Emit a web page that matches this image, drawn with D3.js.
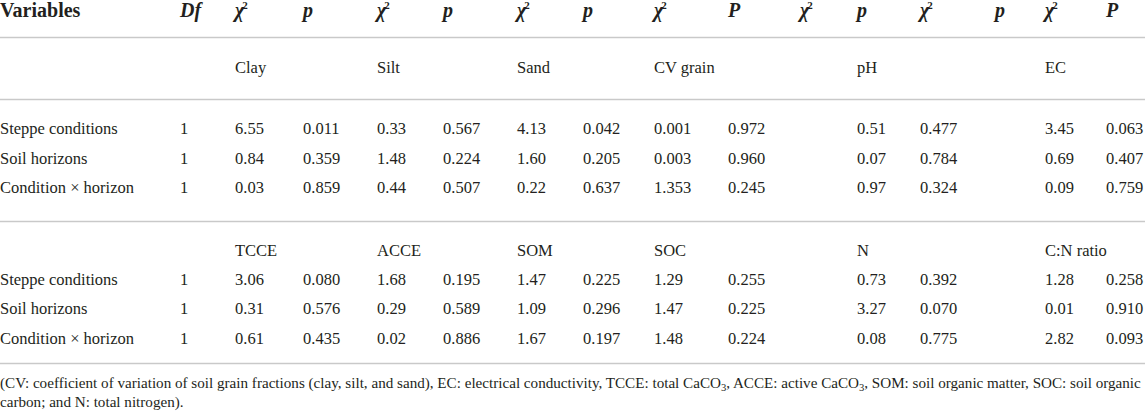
<!DOCTYPE html>
<html>
<head>
<meta charset="utf-8">
<script src="https://cdn.jsdelivr.net/npm/d3@7"></script>
<style>
  body { margin: 0; background: #fff; }
  text { font-family: "Liberation Serif", "DejaVu Serif", serif; fill: #231f20; }
</style>
</head>
<body>
<div id="table"></div>
<script>
// header row of the table (note: it has two extra columns compared to the data)
const headerLabels = ["Variables", "Df", "χ2", "p", "χ2", "p", "χ2", "p", "χ2", "P", "χ2", "p", "χ2", "p", "χ2", "P"];

const rowLabels = ["Steppe conditions", "Soil horizons", "Condition × horizon"];
const dfValues = ["1", "1", "1"];

// first block
const groups1 = ["Clay", "Silt", "Sand", "CV grain", "pH", "EC"];
const chi1 = [
  ["6.55", "0.84", "0.03"],
  ["0.33", "1.48", "0.44"],
  ["4.13", "1.60", "0.22"],
  ["0.001", "0.003", "1.353"],
  ["0.51", "0.07", "0.97"],
  ["3.45", "0.69", "0.09"]
];
const p1 = [
  ["0.011", "0.359", "0.859"],
  ["0.567", "0.224", "0.507"],
  ["0.042", "0.205", "0.637"],
  ["0.972", "0.960", "0.245"],
  ["0.477", "0.784", "0.324"],
  ["0.063", "0.407", "0.759"]
];

// second block
const groups2 = ["TCCE", "ACCE", "SOM", "SOC", "N", "C:N ratio"];
const chi2 = [
  ["3.06", "0.31", "0.61"],
  ["1.68", "0.29", "0.02"],
  ["1.47", "1.09", "1.67"],
  ["1.29", "1.47", "1.48"],
  ["0.73", "3.27", "0.08"],
  ["1.28", "0.01", "2.82"]
];
const p2 = [
  ["0.080", "0.576", "0.435"],
  ["0.195", "0.589", "0.886"],
  ["0.225", "0.296", "0.197"],
  ["0.255", "0.225", "0.224"],
  ["0.392", "0.070", "0.775"],
  ["0.258", "0.910", "0.093"]
];

// footnote pieces, "sub" marks a subscript
const footnote = [
  [["(CV: coefficient of variation of soil grain fractions (clay, silt, and sand), EC: electrical conductivity, TCCE: total CaCO"], ["3", "sub"], [", ACCE: active CaCO"], ["3", "sub"], [", SOM: soil organic matter, SOC: soil organic"]],
  [["carbon; and N: total nitrogen)."]]
];

const width = 1145, height = 411;

const svg = d3.select("#table").append("svg")
  .attr("width", width)
  .attr("height", height);

// column positions (layout only)
const xHeader = d3.scaleOrdinal()
  .domain(d3.range(headerLabels.length))
  .range([0, 180, 235, 303, 377, 443, 517, 583, 654, 728, 800, 857, 920, 995, 1045, 1106]);

// data columns: label, df, then chi/p pairs for each group
const xData = d3.scaleOrdinal()
  .domain(d3.range(14))
  .range([0, 180, 235, 303, 377, 443, 517, 583, 654, 728, 857, 920, 1045, 1106]);

// row positions (centres)
const yRow = d3.scaleOrdinal()
  .domain(["head", "g1", "a0", "a1", "a2", "g2", "b0", "b1", "b2"])
  .range([10, 67, 128, 158, 187, 250, 279, 308, 338]);

const rules = [37.5, 99.5, 221.5, 363.5];

svg.append("g")
  .selectAll("line")
  .data(rules)
  .join("line")
  .attr("x1", 0)
  .attr("x2", width)
  .attr("y1", d => d)
  .attr("y2", d => d)
  .attr("stroke", "#c9c9c9")
  .attr("stroke-width", 1.5);

// header
const head = svg.append("g")
  .selectAll("text")
  .data(headerLabels)
  .join("text")
  .attr("x", (d, i) => xHeader(i))
  .attr("y", yRow("head"))
  .attr("dy", "0.35em")
  .style("font-weight", "bold")
  .style("font-size", "20px")
  .style("font-style", (d, i) => (i === 0 ? "normal" : "italic"));

head.each(function (d) {
  const t = d3.select(this);
  if (d === "χ2") {
    t.append("tspan").text("χ");
    t.append("tspan").text("2")
      .style("font-size", "11px")
      .style("font-style", "normal")
      .attr("dx", -2)
      .attr("dy", "-0.75em");
  } else {
    t.text(d);
  }
});

function drawBlock(groups, chi, p, gKey, rowKeys) {
  const g = svg.append("g").style("font-size", "16.5px");

  g.selectAll("text.group")
    .data(groups)
    .join("text")
    .attr("class", "group")
    .attr("x", (d, i) => xData(2 + i * 2))
    .attr("y", yRow(gKey))
    .attr("dy", "0.35em")
    .text(d => d);

  rowLabels.forEach((label, r) => {
    const cells = [label, dfValues[r]];
    groups.forEach((gr, i) => {
      cells.push(chi[i][r]);
      cells.push(p[i][r]);
    });
    g.append("g")
      .selectAll("text")
      .data(cells)
      .join("text")
      .attr("x", (d, i) => xData(i))
      .attr("y", yRow(rowKeys[r]))
      .attr("dy", "0.35em")
      .text(d => d);
  });
}

drawBlock(groups1, chi1, p1, "g1", ["a0", "a1", "a2"]);
drawBlock(groups2, chi2, p2, "g2", ["b0", "b1", "b2"]);

// footnote
const fn = svg.append("g");
const fnY = [388, 407];
const fnLines = footnote.map((parts, li) => {
  const t = fn.append("text")
    .attr("x", 0)
    .attr("y", fnY[li])
    .style("font-size", "14.6px");
  let shifted = false;
  parts.forEach(part => {
    const ts = t.append("tspan").text(part[0]);
    if (part[1] === "sub") {
      ts.style("font-size", "10px").attr("dy", 3);
      shifted = true;
    } else if (shifted) {
      ts.attr("dy", -3);
      shifted = false;
    }
  });
  return t;
});

// first footnote line runs almost the full width in the original
const fnLen = fnLines[0].node().getComputedTextLength();
const fnSize = 14.6 * 1141 / fnLen;
fnLines.forEach(t => t.style("font-size", fnSize + "px"));
fn.selectAll("tspan").filter(function () { return this.style.fontSize === "10px"; })
  .style("font-size", (fnSize * 0.7) + "px");
</script>
</body>
</html>
